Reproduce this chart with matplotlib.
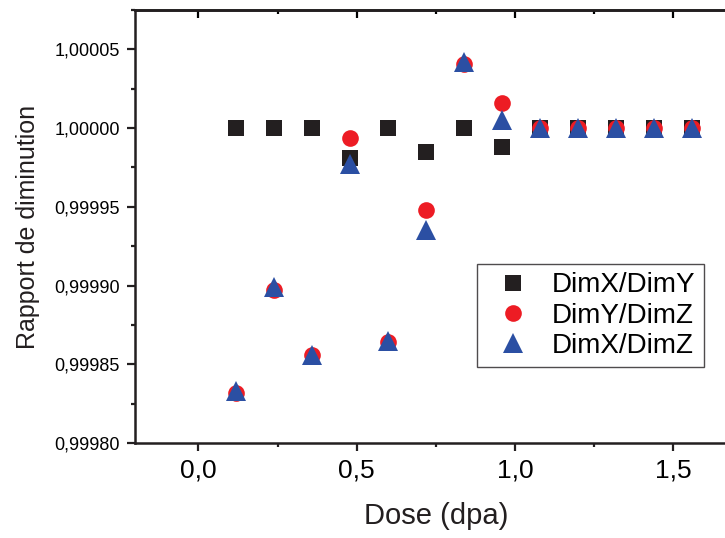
import numpy as np
import matplotlib
matplotlib.use('Agg')
import matplotlib.pyplot as plt
from matplotlib.ticker import FuncFormatter, MultipleLocator, AutoMinorLocator

plt.rcParams['font.family'] = ['Liberation Sans', 'DejaVu Sans']

dose = [0.12, 0.24, 0.36, 0.48, 0.60, 0.72, 0.84, 0.96, 1.08, 1.20, 1.32, 1.44, 1.56]
dimx_dimy = [1.0, 1.0, 1.0, 0.999981, 1.0, 0.999985, 1.0, 0.999988, 1.0, 1.0, 1.0, 1.0, 1.0]
dimy_dimz = [0.999832, 0.999897, 0.999856, 0.999994, 0.999864, 0.999948, 1.000041, 1.000016,
             1.0, 1.0, 1.0, 1.0, 1.0]
dimx_dimz = [0.999833, 0.999899, 0.999856, 0.999977, 0.999865, 0.999935, 1.000042, 1.000005,
             1.0, 1.0, 1.0, 1.0, 1.0]

fig = plt.figure(figsize=(7.25, 5.38), dpi=100)
ax = fig.add_axes([0.1862, 0.1766, 0.83, 0.8048])

ax.plot(dose, dimx_dimy, 's', color='#231f20', markersize=11, markeredgewidth=0, label='DimX/DimY')
ax.plot(dose, dimy_dimz, 'o', color='#ed1c24', markersize=12, markeredgewidth=0, label='DimY/DimZ')
ax.plot(dose, dimx_dimz, '^', color='#2b4fa3', markersize=14, markeredgewidth=0, label='DimX/DimZ')

ax.set_xlim(-0.2, 1.7)
ax.set_ylim(0.99980, 1.000075)

ax.xaxis.set_major_locator(MultipleLocator(0.5))
ax.xaxis.set_minor_locator(AutoMinorLocator(2))
ax.yaxis.set_major_locator(MultipleLocator(0.00005))
ax.yaxis.set_minor_locator(AutoMinorLocator(2))
ax.xaxis.set_major_formatter(FuncFormatter(lambda v, p: f'{v:.1f}'.replace('.', ',')))
ax.yaxis.set_major_formatter(FuncFormatter(lambda v, p: f'{v:.5f}'.replace('.', ',')))

for s in ax.spines.values():
    s.set_linewidth(1.8)
    s.set_color('#231f20')

ax.tick_params(axis='both', which='major', direction='out', length=6, width=1.6, color='#231f20')
ax.tick_params(axis='both', which='minor', direction='out', length=3, width=1.6, color='#231f20')
ax.tick_params(axis='x', labelsize=19, pad=5)
ax.tick_params(axis='y', labelsize=13, pad=5)

top = ax.secondary_xaxis('top')
top.xaxis.set_major_locator(MultipleLocator(0.5))
top.xaxis.set_minor_locator(AutoMinorLocator(2))
top.tick_params(which='major', direction='in', length=6, width=1.6, labeltop=False)
top.tick_params(which='minor', direction='in', length=3, width=1.6)
top.spines['top'].set_linewidth(1.8)

ax.set_xlabel('Dose (dpa)', fontsize=21, labelpad=14, color='#231f20')
ax.set_ylabel('Rapport de diminution', fontsize=18, labelpad=10, color='#231f20')

leg = fig.legend(loc='upper left', bbox_to_anchor=(0.658, 0.509), fontsize=20,
                 frameon=True, fancybox=False, borderaxespad=0, handletextpad=0.4,
                 borderpad=0.3, labelspacing=0.15)
leg.get_frame().set_edgecolor('#231f20')
leg.get_frame().set_linewidth(1.0)

fig.savefig('out.png', dpi=100)
